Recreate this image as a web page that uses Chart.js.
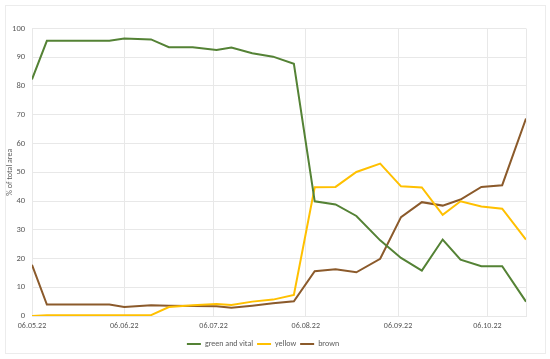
<!DOCTYPE html>
<html>
<head>
<meta charset="utf-8">
<script src="https://cdn.jsdelivr.net/npm/chart.js@4.4.1/dist/chart.umd.min.js"></script>
<style>
  html, body { margin: 0; padding: 0; background: #fff; }
  #wrap { position: relative; width: 550px; height: 359px; }
  #frame { position: absolute; left: 5px; top: 5px; width: 541px; height: 349px; border: 1px solid #ececec; box-sizing: border-box; }
  canvas { position: absolute; left: 0; top: 0; }
</style>
</head>
<body>
<div id="wrap">
  <div id="frame"></div>
  <canvas id="c" width="550" height="359"></canvas>
</div>
<script>
// ---- data ----
const sampleDates = ["2022-05-06","2022-05-11","2022-06-01","2022-06-06","2022-06-15","2022-06-21","2022-06-29",
  "2022-07-07","2022-07-12","2022-07-19","2022-07-26","2022-08-02","2022-08-09","2022-08-16","2022-08-23",
  "2022-08-31","2022-09-07","2022-09-14","2022-09-21","2022-09-27","2022-10-04","2022-10-11","2022-10-19"];
const greenVital = [82.3,95.7,95.7,96.5,96.2,93.5,93.5,92.5,93.4,91.4,90.2,87.7,39.9,38.8,34.8,26.3,20.2,15.8,26.6,19.6,17.3,17.3,5.0];
const yellow     = [0.0,0.3,0.3,0.3,0.3,3.1,3.7,4.2,3.8,5.0,5.7,7.3,44.8,44.9,50.1,53.0,45.1,44.7,35.2,39.9,38.1,37.3,26.6];
const brown      = [17.8,4.0,4.0,3.1,3.7,3.6,3.5,3.4,2.9,3.6,4.4,5.1,15.6,16.3,15.2,19.9,34.4,39.6,38.4,40.5,44.9,45.5,68.7];
const xTickLabels = ["06.05.22","06.06.22","06.07.22","06.08.22","06.09.22","06.10.22"];
const seriesNames = ["green and vital","yellow","brown"];
const yTitle = "% of total area";

// ---- helpers ----
const DAY = 86400000;
const isoToUTC = s => { const [y,m,d] = s.split('-').map(Number); return Date.UTC(y, m-1, d); };
const labelToUTC = s => { const [d,m,y] = s.split('.').map(Number); return Date.UTC(2000+y, m-1, d); };
const t0 = isoToUTC(sampleDates[0]);
const xDays = sampleDates.map(s => Math.round((isoToUTC(s) - t0) / DAY));
const tickDays = xTickLabels.map(s => Math.round((labelToUTC(s) - t0) / DAY));
const maxDay = xDays[xDays.length - 1];
const tickLabelMap = {};
tickDays.forEach((d, i) => tickLabelMap[d] = xTickLabels[i]);
const pts = arr => arr.map((v, i) => ({ x: xDays[i], y: v }));

const FONT = 'Carlito, Lato, sans-serif';
const TXT = '#595959';
const GRID = '#e8e8e8';
const colors = ['#548235', '#FFC000', '#8B5A2B'];

new Chart(document.getElementById('c'), {
  type: 'line',
  data: {
    datasets: [greenVital, yellow, brown].map((arr, i) => ({
      label: seriesNames[i],
      data: pts(arr),
      borderColor: colors[i],
      backgroundColor: colors[i],
      borderWidth: 2,
      pointRadius: 0,
      tension: 0,
      fill: false
    }))
  },
  options: {
    responsive: false,
    animation: false,
    layout: { padding: { top: 28.5, right: 24, left: 0, bottom: 1 } },
    scales: {
      x: {
        type: 'linear',
        min: 0,
        max: maxDay,
        afterBuildTicks: s => { s.ticks = tickDays.concat([maxDay]).map(v => ({ value: v })); },
        afterFit: s => { s.height = 20; },
        grid: { color: GRID, drawTicks: false },
        border: { color: GRID },
        ticks: {
          color: TXT, font: { family: FONT, size: 8 }, padding: 5, maxRotation: 0, autoSkip: false,
          callback: v => tickLabelMap[v] ?? ''
        }
      },
      y: {
        min: 0, max: 100,
        afterFit: s => { s.width = 32; },
        grid: { color: GRID, drawTicks: false },
        border: { display: false },
        ticks: { stepSize: 10, color: TXT, font: { family: FONT, size: 8.5 }, padding: 7 },
        title: { display: true, text: yTitle, color: TXT, font: { family: FONT, size: 8 }, padding: { top: 5, bottom: 0 } }
      }
    },
    plugins: {
      tooltip: { enabled: false },
      legend: {
        position: 'bottom',
        labels: {
          color: TXT, font: { family: FONT, size: 8 }, boxWidth: 14, boxHeight: 2, padding: 4,
          generateLabels: chart => Chart.defaults.plugins.legend.labels.generateLabels(chart)
            .map(l => Object.assign(l, { lineWidth: 0, fillStyle: l.strokeStyle }))
        }
      }
    }
  }
});
</script>
</body>
</html>
